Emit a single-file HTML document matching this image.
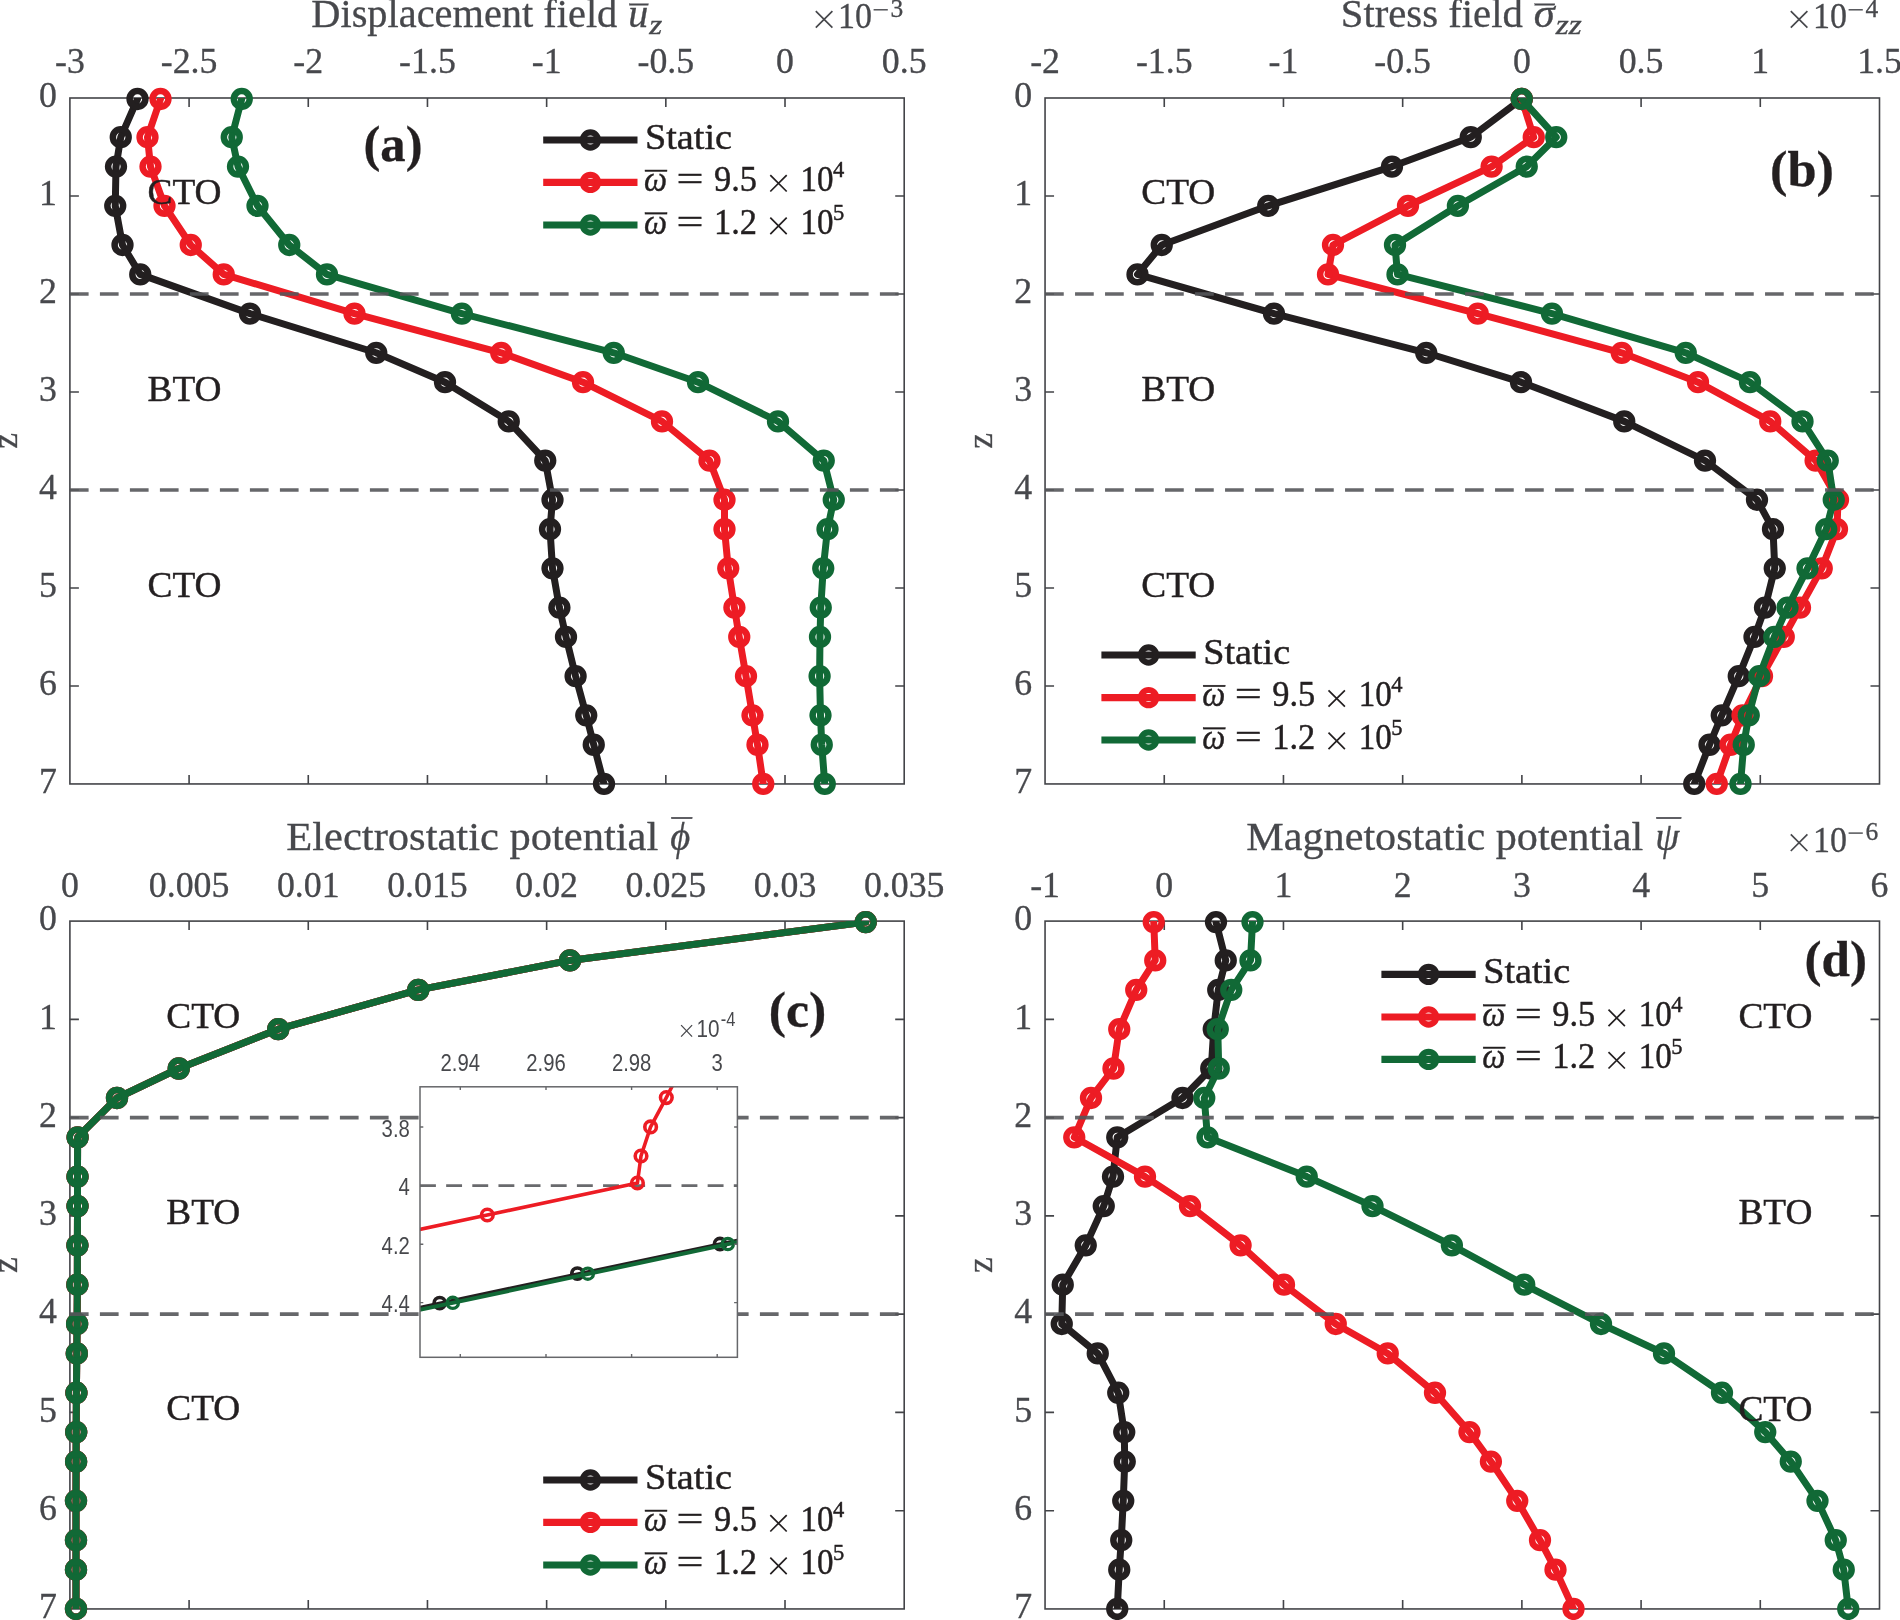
<!DOCTYPE html>
<html><head><meta charset="utf-8"><title>Figure</title>
<style>html,body{margin:0;padding:0;background:#fff;}body{width:1900px;height:1620px;overflow:hidden;font-family:"Liberation Serif",serif;}svg{will-change:transform;}svg text{white-space:pre;}</style></head>
<body>
<svg width="1900" height="1620" viewBox="0 0 1900 1620" style="display:block">
<rect width="1900" height="1620" fill="#fff"/>
<rect x="69.9" y="98" width="834.3" height="685.95" fill="none" stroke="#434448" stroke-width="1.6"/>
<path d="M189.09 98v9.0M189.09 783.95v-9.0M308.27 98v9.0M308.27 783.95v-9.0M427.46 98v9.0M427.46 783.95v-9.0M546.64 98v9.0M546.64 783.95v-9.0M665.83 98v9.0M665.83 783.95v-9.0M785.01 98v9.0M785.01 783.95v-9.0M69.9 195.99h9.0M904.2 195.99h-9.0M69.9 293.99h9.0M904.2 293.99h-9.0M69.9 391.98h9.0M904.2 391.98h-9.0M69.9 489.97h9.0M904.2 489.97h-9.0M69.9 587.96h9.0M904.2 587.96h-9.0M69.9 685.96h9.0M904.2 685.96h-9.0" stroke="#434448" stroke-width="1.6" fill="none"/>
<text x="69.9" y="73.4" text-anchor="middle" font-family="Liberation Serif, serif" font-size="35.8" fill="#47484c" stroke="#47484c" stroke-width="0.3">-3</text>
<text x="189.09" y="73.4" text-anchor="middle" font-family="Liberation Serif, serif" font-size="35.8" fill="#47484c" stroke="#47484c" stroke-width="0.3">-2.5</text>
<text x="308.27" y="73.4" text-anchor="middle" font-family="Liberation Serif, serif" font-size="35.8" fill="#47484c" stroke="#47484c" stroke-width="0.3">-2</text>
<text x="427.46" y="73.4" text-anchor="middle" font-family="Liberation Serif, serif" font-size="35.8" fill="#47484c" stroke="#47484c" stroke-width="0.3">-1.5</text>
<text x="546.64" y="73.4" text-anchor="middle" font-family="Liberation Serif, serif" font-size="35.8" fill="#47484c" stroke="#47484c" stroke-width="0.3">-1</text>
<text x="665.83" y="73.4" text-anchor="middle" font-family="Liberation Serif, serif" font-size="35.8" fill="#47484c" stroke="#47484c" stroke-width="0.3">-0.5</text>
<text x="785.01" y="73.4" text-anchor="middle" font-family="Liberation Serif, serif" font-size="35.8" fill="#47484c" stroke="#47484c" stroke-width="0.3">0</text>
<text x="904.2" y="73.4" text-anchor="middle" font-family="Liberation Serif, serif" font-size="35.8" fill="#47484c" stroke="#47484c" stroke-width="0.3">0.5</text>
<text x="56.9" y="107.3" text-anchor="end" font-family="Liberation Serif, serif" font-size="35.8" fill="#47484c" stroke="#47484c" stroke-width="0.3">0</text>
<text x="56.9" y="205.29" text-anchor="end" font-family="Liberation Serif, serif" font-size="35.8" fill="#47484c" stroke="#47484c" stroke-width="0.3">1</text>
<text x="56.9" y="303.29" text-anchor="end" font-family="Liberation Serif, serif" font-size="35.8" fill="#47484c" stroke="#47484c" stroke-width="0.3">2</text>
<text x="56.9" y="401.28" text-anchor="end" font-family="Liberation Serif, serif" font-size="35.8" fill="#47484c" stroke="#47484c" stroke-width="0.3">3</text>
<text x="56.9" y="499.27" text-anchor="end" font-family="Liberation Serif, serif" font-size="35.8" fill="#47484c" stroke="#47484c" stroke-width="0.3">4</text>
<text x="56.9" y="597.26" text-anchor="end" font-family="Liberation Serif, serif" font-size="35.8" fill="#47484c" stroke="#47484c" stroke-width="0.3">5</text>
<text x="56.9" y="695.26" text-anchor="end" font-family="Liberation Serif, serif" font-size="35.8" fill="#47484c" stroke="#47484c" stroke-width="0.3">6</text>
<text x="56.9" y="793.25" text-anchor="end" font-family="Liberation Serif, serif" font-size="35.8" fill="#47484c" stroke="#47484c" stroke-width="0.3">7</text>
<text transform="translate(16.9 440.98) rotate(-90)" text-anchor="middle" font-family="Liberation Serif, serif" font-size="35.5" fill="#47484c" stroke="#47484c" stroke-width="0.3">z</text>
<clipPath id="cpa"><rect x="69.9" y="98" width="834.3" height="685.95"/></clipPath>
<polyline clip-path="url(#cpa)" points="137.5,98.98 120.75,137.2 116,166.59 115.25,205.79 122.5,244.99 140.25,274.39 250,313.58 376.25,352.78 445,382.18 508.75,421.38 545.25,460.57 552.5,499.77 550,529.17 552.5,568.37 559.4,607.56 566,636.96 575.6,676.16 586.25,715.36 593.75,744.75 604,783.95" fill="none" stroke="#231f20" stroke-width="7.0" stroke-linejoin="round" stroke-linecap="round"/>
<g fill="none" stroke="#231f20" stroke-width="6.5">
<circle cx="137.5" cy="98.98" r="7.9"/>
<circle cx="120.75" cy="137.2" r="7.9"/>
<circle cx="116" cy="166.59" r="7.9"/>
<circle cx="115.25" cy="205.79" r="7.9"/>
<circle cx="122.5" cy="244.99" r="7.9"/>
<circle cx="140.25" cy="274.39" r="7.9"/>
<circle cx="250" cy="313.58" r="7.9"/>
<circle cx="376.25" cy="352.78" r="7.9"/>
<circle cx="445" cy="382.18" r="7.9"/>
<circle cx="508.75" cy="421.38" r="7.9"/>
<circle cx="545.25" cy="460.57" r="7.9"/>
<circle cx="552.5" cy="499.77" r="7.9"/>
<circle cx="550" cy="529.17" r="7.9"/>
<circle cx="552.5" cy="568.37" r="7.9"/>
<circle cx="559.4" cy="607.56" r="7.9"/>
<circle cx="566" cy="636.96" r="7.9"/>
<circle cx="575.6" cy="676.16" r="7.9"/>
<circle cx="586.25" cy="715.36" r="7.9"/>
<circle cx="593.75" cy="744.75" r="7.9"/>
<circle cx="604" cy="783.95" r="7.9"/>
</g>
<polyline clip-path="url(#cpa)" points="160.5,98.98 147.5,137.2 150.5,166.59 164.5,205.79 190.75,244.99 223.75,274.39 354.5,313.58 501.25,352.78 583,382.18 662,421.38 709.5,460.57 724.5,499.77 724.5,529.17 728.25,568.37 734.4,607.56 739.25,636.96 746,676.16 752.5,715.36 757.5,744.75 763.25,783.95" fill="none" stroke="#ed1c24" stroke-width="7.0" stroke-linejoin="round" stroke-linecap="round"/>
<g fill="none" stroke="#ed1c24" stroke-width="6.5">
<circle cx="160.5" cy="98.98" r="7.9"/>
<circle cx="147.5" cy="137.2" r="7.9"/>
<circle cx="150.5" cy="166.59" r="7.9"/>
<circle cx="164.5" cy="205.79" r="7.9"/>
<circle cx="190.75" cy="244.99" r="7.9"/>
<circle cx="223.75" cy="274.39" r="7.9"/>
<circle cx="354.5" cy="313.58" r="7.9"/>
<circle cx="501.25" cy="352.78" r="7.9"/>
<circle cx="583" cy="382.18" r="7.9"/>
<circle cx="662" cy="421.38" r="7.9"/>
<circle cx="709.5" cy="460.57" r="7.9"/>
<circle cx="724.5" cy="499.77" r="7.9"/>
<circle cx="724.5" cy="529.17" r="7.9"/>
<circle cx="728.25" cy="568.37" r="7.9"/>
<circle cx="734.4" cy="607.56" r="7.9"/>
<circle cx="739.25" cy="636.96" r="7.9"/>
<circle cx="746" cy="676.16" r="7.9"/>
<circle cx="752.5" cy="715.36" r="7.9"/>
<circle cx="757.5" cy="744.75" r="7.9"/>
<circle cx="763.25" cy="783.95" r="7.9"/>
</g>
<polyline clip-path="url(#cpa)" points="241.75,98.98 231.75,137.2 238,166.59 257.5,205.79 289.25,244.99 327,274.39 461.9,313.58 613.75,352.78 698,382.18 778,421.38 823.75,460.57 833.75,499.77 827.5,529.17 823.25,568.37 820.75,607.56 820,636.96 819.6,676.16 820.5,715.36 821.75,744.75 824.75,783.95" fill="none" stroke="#116936" stroke-width="7.0" stroke-linejoin="round" stroke-linecap="round"/>
<g fill="none" stroke="#116936" stroke-width="6.5">
<circle cx="241.75" cy="98.98" r="7.9"/>
<circle cx="231.75" cy="137.2" r="7.9"/>
<circle cx="238" cy="166.59" r="7.9"/>
<circle cx="257.5" cy="205.79" r="7.9"/>
<circle cx="289.25" cy="244.99" r="7.9"/>
<circle cx="327" cy="274.39" r="7.9"/>
<circle cx="461.9" cy="313.58" r="7.9"/>
<circle cx="613.75" cy="352.78" r="7.9"/>
<circle cx="698" cy="382.18" r="7.9"/>
<circle cx="778" cy="421.38" r="7.9"/>
<circle cx="823.75" cy="460.57" r="7.9"/>
<circle cx="833.75" cy="499.77" r="7.9"/>
<circle cx="827.5" cy="529.17" r="7.9"/>
<circle cx="823.25" cy="568.37" r="7.9"/>
<circle cx="820.75" cy="607.56" r="7.9"/>
<circle cx="820" cy="636.96" r="7.9"/>
<circle cx="819.6" cy="676.16" r="7.9"/>
<circle cx="820.5" cy="715.36" r="7.9"/>
<circle cx="821.75" cy="744.75" r="7.9"/>
<circle cx="824.75" cy="783.95" r="7.9"/>
</g>
<line x1="69.9" y1="293.99" x2="904.2" y2="293.99" stroke="#55565a" stroke-opacity="0.9" stroke-width="3.6" stroke-dasharray="18.7 11.3"/>
<line x1="69.9" y1="489.97" x2="904.2" y2="489.97" stroke="#55565a" stroke-opacity="0.9" stroke-width="3.6" stroke-dasharray="18.7 11.3"/>
<text x="147.5" y="204.3" font-family="Liberation Serif, serif" font-size="36" fill="#231f20" stroke="#231f20" stroke-width="0.45" textLength="74" lengthAdjust="spacingAndGlyphs">CTO</text>
<text x="147.5" y="400.5" font-family="Liberation Serif, serif" font-size="36" fill="#231f20" stroke="#231f20" stroke-width="0.45" textLength="74" lengthAdjust="spacingAndGlyphs">BTO</text>
<text x="147.5" y="596.6" font-family="Liberation Serif, serif" font-size="36" fill="#231f20" stroke="#231f20" stroke-width="0.45" textLength="74" lengthAdjust="spacingAndGlyphs">CTO</text>
<text x="363.5" y="161.3" font-family="Liberation Serif, serif" font-weight="bold" font-size="50" fill="#231f20" stroke="#231f20" stroke-width="0.3" textLength="59" lengthAdjust="spacingAndGlyphs">(a)</text>
<line x1="543.2" y1="140" x2="637.5" y2="140" stroke="#231f20" stroke-width="7.2"/>
<circle cx="590.4" cy="140" r="7.6" fill="none" stroke="#231f20" stroke-width="6.2"/>
<line x1="543.2" y1="182.4" x2="637.5" y2="182.4" stroke="#ed1c24" stroke-width="7.2"/>
<circle cx="590.4" cy="182.4" r="7.6" fill="none" stroke="#ed1c24" stroke-width="6.2"/>
<line x1="543.2" y1="225" x2="637.5" y2="225" stroke="#116936" stroke-width="7.2"/>
<circle cx="590.4" cy="225" r="7.6" fill="none" stroke="#116936" stroke-width="6.2"/>
<text x="645" y="149" font-family="Liberation Serif, serif" font-size="36.5" fill="#231f20" stroke="#231f20" stroke-width="0.45" textLength="87" lengthAdjust="spacingAndGlyphs">Static</text>
<g font-family="Liberation Serif, serif" font-size="36.5" fill="#231f20" stroke="#231f20" stroke-width="0.45">
<text x="644" y="191.2" font-style="italic" textLength="23" lengthAdjust="spacingAndGlyphs">ω</text>
<rect x="645" y="170" width="22" height="1.5"/>
<text x="676.5" y="191.2" textLength="27" lengthAdjust="spacingAndGlyphs">=</text>
<text x="714" y="191.2" textLength="43" lengthAdjust="spacingAndGlyphs">9.5</text>
<path d="M770.3 175.1L786.7 191.5M770.3 191.5L786.7 175.1" stroke="#231f20" stroke-width="1.7" fill="none"/>
<text x="800.5" y="191.2" textLength="33" lengthAdjust="spacingAndGlyphs">10</text>
<text x="833" y="177.2" font-size="22.5">4</text>
</g>
<g font-family="Liberation Serif, serif" font-size="36.5" fill="#231f20" stroke="#231f20" stroke-width="0.45">
<text x="644" y="233.8" font-style="italic" textLength="23" lengthAdjust="spacingAndGlyphs">ω</text>
<rect x="645" y="212.6" width="22" height="1.5"/>
<text x="676.5" y="233.8" textLength="27" lengthAdjust="spacingAndGlyphs">=</text>
<text x="714" y="233.8" textLength="43" lengthAdjust="spacingAndGlyphs">1.2</text>
<path d="M770.3 217.7L786.7 234.1M770.3 234.1L786.7 217.7" stroke="#231f20" stroke-width="1.7" fill="none"/>
<text x="800.5" y="233.8" textLength="33" lengthAdjust="spacingAndGlyphs">10</text>
<text x="833" y="219.8" font-size="22.5">5</text>
</g>
<g font-family="Liberation Serif, serif" font-size="39.5" fill="#47484c" stroke="#47484c" stroke-width="0.3">
<text x="311.3" y="26.9" textLength="306" lengthAdjust="spacingAndGlyphs">Displacement field</text>
<text x="628.3" y="26.9" font-style="italic" textLength="20" lengthAdjust="spacingAndGlyphs">u</text>
<rect x="629.3" y="3.7" width="19" height="1.6"/>
<text x="649.3" y="33.9" font-style="italic" font-size="27" textLength="13" lengthAdjust="spacingAndGlyphs">z</text>
</g>
<path d="M815.8 11.1L832.4 27.7M815.8 27.7L832.4 11.1" stroke="#47484c" stroke-width="1.7" fill="none"/>
<path d="M873.6 9.8h14.2" stroke="#47484c" stroke-width="1.4" fill="none"/>
<g font-family="Liberation Serif, serif" fill="#47484c" stroke="#47484c" stroke-width="0.3">
<text x="838.1" y="28.4" font-size="36.5" textLength="34" lengthAdjust="spacingAndGlyphs">10</text>
<text x="890.5" y="16.5" font-size="25.5">3</text>
</g>
<rect x="1045.05" y="98" width="834.45" height="685.95" fill="none" stroke="#434448" stroke-width="1.6"/>
<path d="M1164.26 98v9.0M1164.26 783.95v-9.0M1283.46 98v9.0M1283.46 783.95v-9.0M1402.67 98v9.0M1402.67 783.95v-9.0M1521.88 98v9.0M1521.88 783.95v-9.0M1641.09 98v9.0M1641.09 783.95v-9.0M1760.29 98v9.0M1760.29 783.95v-9.0M1045.05 195.99h9.0M1879.5 195.99h-9.0M1045.05 293.99h9.0M1879.5 293.99h-9.0M1045.05 391.98h9.0M1879.5 391.98h-9.0M1045.05 489.97h9.0M1879.5 489.97h-9.0M1045.05 587.96h9.0M1879.5 587.96h-9.0M1045.05 685.96h9.0M1879.5 685.96h-9.0" stroke="#434448" stroke-width="1.6" fill="none"/>
<text x="1045.05" y="73.4" text-anchor="middle" font-family="Liberation Serif, serif" font-size="35.8" fill="#47484c" stroke="#47484c" stroke-width="0.3">-2</text>
<text x="1164.26" y="73.4" text-anchor="middle" font-family="Liberation Serif, serif" font-size="35.8" fill="#47484c" stroke="#47484c" stroke-width="0.3">-1.5</text>
<text x="1283.46" y="73.4" text-anchor="middle" font-family="Liberation Serif, serif" font-size="35.8" fill="#47484c" stroke="#47484c" stroke-width="0.3">-1</text>
<text x="1402.67" y="73.4" text-anchor="middle" font-family="Liberation Serif, serif" font-size="35.8" fill="#47484c" stroke="#47484c" stroke-width="0.3">-0.5</text>
<text x="1521.88" y="73.4" text-anchor="middle" font-family="Liberation Serif, serif" font-size="35.8" fill="#47484c" stroke="#47484c" stroke-width="0.3">0</text>
<text x="1641.09" y="73.4" text-anchor="middle" font-family="Liberation Serif, serif" font-size="35.8" fill="#47484c" stroke="#47484c" stroke-width="0.3">0.5</text>
<text x="1760.29" y="73.4" text-anchor="middle" font-family="Liberation Serif, serif" font-size="35.8" fill="#47484c" stroke="#47484c" stroke-width="0.3">1</text>
<text x="1879.5" y="73.4" text-anchor="middle" font-family="Liberation Serif, serif" font-size="35.8" fill="#47484c" stroke="#47484c" stroke-width="0.3">1.5</text>
<text x="1032.05" y="107.3" text-anchor="end" font-family="Liberation Serif, serif" font-size="35.8" fill="#47484c" stroke="#47484c" stroke-width="0.3">0</text>
<text x="1032.05" y="205.29" text-anchor="end" font-family="Liberation Serif, serif" font-size="35.8" fill="#47484c" stroke="#47484c" stroke-width="0.3">1</text>
<text x="1032.05" y="303.29" text-anchor="end" font-family="Liberation Serif, serif" font-size="35.8" fill="#47484c" stroke="#47484c" stroke-width="0.3">2</text>
<text x="1032.05" y="401.28" text-anchor="end" font-family="Liberation Serif, serif" font-size="35.8" fill="#47484c" stroke="#47484c" stroke-width="0.3">3</text>
<text x="1032.05" y="499.27" text-anchor="end" font-family="Liberation Serif, serif" font-size="35.8" fill="#47484c" stroke="#47484c" stroke-width="0.3">4</text>
<text x="1032.05" y="597.26" text-anchor="end" font-family="Liberation Serif, serif" font-size="35.8" fill="#47484c" stroke="#47484c" stroke-width="0.3">5</text>
<text x="1032.05" y="695.26" text-anchor="end" font-family="Liberation Serif, serif" font-size="35.8" fill="#47484c" stroke="#47484c" stroke-width="0.3">6</text>
<text x="1032.05" y="793.25" text-anchor="end" font-family="Liberation Serif, serif" font-size="35.8" fill="#47484c" stroke="#47484c" stroke-width="0.3">7</text>
<text transform="translate(992.05 440.98) rotate(-90)" text-anchor="middle" font-family="Liberation Serif, serif" font-size="35.5" fill="#47484c" stroke="#47484c" stroke-width="0.3">z</text>
<clipPath id="cpb"><rect x="1045.05" y="98" width="834.45" height="685.95"/></clipPath>
<polyline clip-path="url(#cpb)" points="1521.75,98.98 1470.75,137.2 1392,166.59 1268.25,205.79 1161.75,244.99 1137.5,274.39 1274,313.58 1426.25,352.78 1521,382.18 1624.25,421.38 1705,460.57 1757,499.77 1773,529.17 1774.75,568.37 1765,607.56 1754.5,636.96 1738.75,676.16 1721.75,715.36 1709.5,744.75 1694.25,783.95" fill="none" stroke="#231f20" stroke-width="7.0" stroke-linejoin="round" stroke-linecap="round"/>
<g fill="none" stroke="#231f20" stroke-width="6.5">
<circle cx="1521.75" cy="98.98" r="7.9"/>
<circle cx="1470.75" cy="137.2" r="7.9"/>
<circle cx="1392" cy="166.59" r="7.9"/>
<circle cx="1268.25" cy="205.79" r="7.9"/>
<circle cx="1161.75" cy="244.99" r="7.9"/>
<circle cx="1137.5" cy="274.39" r="7.9"/>
<circle cx="1274" cy="313.58" r="7.9"/>
<circle cx="1426.25" cy="352.78" r="7.9"/>
<circle cx="1521" cy="382.18" r="7.9"/>
<circle cx="1624.25" cy="421.38" r="7.9"/>
<circle cx="1705" cy="460.57" r="7.9"/>
<circle cx="1757" cy="499.77" r="7.9"/>
<circle cx="1773" cy="529.17" r="7.9"/>
<circle cx="1774.75" cy="568.37" r="7.9"/>
<circle cx="1765" cy="607.56" r="7.9"/>
<circle cx="1754.5" cy="636.96" r="7.9"/>
<circle cx="1738.75" cy="676.16" r="7.9"/>
<circle cx="1721.75" cy="715.36" r="7.9"/>
<circle cx="1709.5" cy="744.75" r="7.9"/>
<circle cx="1694.25" cy="783.95" r="7.9"/>
</g>
<polyline clip-path="url(#cpb)" points="1521.75,98.98 1533.75,137.2 1491.6,166.59 1408,205.79 1333,244.99 1328,274.39 1477.75,313.58 1621.75,352.78 1698,382.18 1770.25,421.38 1815.6,460.57 1838,499.77 1837,529.17 1821.75,568.37 1800,607.56 1783.75,636.96 1762,676.16 1742.5,715.36 1730.5,744.75 1716.75,783.95" fill="none" stroke="#ed1c24" stroke-width="7.0" stroke-linejoin="round" stroke-linecap="round"/>
<g fill="none" stroke="#ed1c24" stroke-width="6.5">
<circle cx="1521.75" cy="98.98" r="7.9"/>
<circle cx="1533.75" cy="137.2" r="7.9"/>
<circle cx="1491.6" cy="166.59" r="7.9"/>
<circle cx="1408" cy="205.79" r="7.9"/>
<circle cx="1333" cy="244.99" r="7.9"/>
<circle cx="1328" cy="274.39" r="7.9"/>
<circle cx="1477.75" cy="313.58" r="7.9"/>
<circle cx="1621.75" cy="352.78" r="7.9"/>
<circle cx="1698" cy="382.18" r="7.9"/>
<circle cx="1770.25" cy="421.38" r="7.9"/>
<circle cx="1815.6" cy="460.57" r="7.9"/>
<circle cx="1838" cy="499.77" r="7.9"/>
<circle cx="1837" cy="529.17" r="7.9"/>
<circle cx="1821.75" cy="568.37" r="7.9"/>
<circle cx="1800" cy="607.56" r="7.9"/>
<circle cx="1783.75" cy="636.96" r="7.9"/>
<circle cx="1762" cy="676.16" r="7.9"/>
<circle cx="1742.5" cy="715.36" r="7.9"/>
<circle cx="1730.5" cy="744.75" r="7.9"/>
<circle cx="1716.75" cy="783.95" r="7.9"/>
</g>
<polyline clip-path="url(#cpb)" points="1521.75,98.98 1556.25,137.2 1526.75,166.59 1457.9,205.79 1395,244.99 1397.5,274.39 1552,313.58 1685.75,352.78 1750,382.18 1802.5,421.38 1827.75,460.57 1833.75,499.77 1826.25,529.17 1807.5,568.37 1787.5,607.56 1774.25,636.96 1759.25,676.16 1748.75,715.36 1743.75,744.75 1740.5,783.95" fill="none" stroke="#116936" stroke-width="7.0" stroke-linejoin="round" stroke-linecap="round"/>
<g fill="none" stroke="#116936" stroke-width="6.5">
<circle cx="1521.75" cy="98.98" r="7.9"/>
<circle cx="1556.25" cy="137.2" r="7.9"/>
<circle cx="1526.75" cy="166.59" r="7.9"/>
<circle cx="1457.9" cy="205.79" r="7.9"/>
<circle cx="1395" cy="244.99" r="7.9"/>
<circle cx="1397.5" cy="274.39" r="7.9"/>
<circle cx="1552" cy="313.58" r="7.9"/>
<circle cx="1685.75" cy="352.78" r="7.9"/>
<circle cx="1750" cy="382.18" r="7.9"/>
<circle cx="1802.5" cy="421.38" r="7.9"/>
<circle cx="1827.75" cy="460.57" r="7.9"/>
<circle cx="1833.75" cy="499.77" r="7.9"/>
<circle cx="1826.25" cy="529.17" r="7.9"/>
<circle cx="1807.5" cy="568.37" r="7.9"/>
<circle cx="1787.5" cy="607.56" r="7.9"/>
<circle cx="1774.25" cy="636.96" r="7.9"/>
<circle cx="1759.25" cy="676.16" r="7.9"/>
<circle cx="1748.75" cy="715.36" r="7.9"/>
<circle cx="1743.75" cy="744.75" r="7.9"/>
<circle cx="1740.5" cy="783.95" r="7.9"/>
</g>
<line x1="1045.05" y1="293.99" x2="1879.5" y2="293.99" stroke="#55565a" stroke-opacity="0.9" stroke-width="3.6" stroke-dasharray="18.7 11.3"/>
<line x1="1045.05" y1="489.97" x2="1879.5" y2="489.97" stroke="#55565a" stroke-opacity="0.9" stroke-width="3.6" stroke-dasharray="18.7 11.3"/>
<text x="1141.3" y="204.3" font-family="Liberation Serif, serif" font-size="36" fill="#231f20" stroke="#231f20" stroke-width="0.45" textLength="74" lengthAdjust="spacingAndGlyphs">CTO</text>
<text x="1141.3" y="400.5" font-family="Liberation Serif, serif" font-size="36" fill="#231f20" stroke="#231f20" stroke-width="0.45" textLength="74" lengthAdjust="spacingAndGlyphs">BTO</text>
<text x="1141.3" y="596.6" font-family="Liberation Serif, serif" font-size="36" fill="#231f20" stroke="#231f20" stroke-width="0.45" textLength="74" lengthAdjust="spacingAndGlyphs">CTO</text>
<text x="1770" y="186" font-family="Liberation Serif, serif" font-weight="bold" font-size="50" fill="#231f20" stroke="#231f20" stroke-width="0.3" textLength="64" lengthAdjust="spacingAndGlyphs">(b)</text>
<line x1="1101.4" y1="655" x2="1195.7" y2="655" stroke="#231f20" stroke-width="7.2"/>
<circle cx="1148.6" cy="655" r="7.6" fill="none" stroke="#231f20" stroke-width="6.2"/>
<line x1="1101.4" y1="697.6" x2="1195.7" y2="697.6" stroke="#ed1c24" stroke-width="7.2"/>
<circle cx="1148.6" cy="697.6" r="7.6" fill="none" stroke="#ed1c24" stroke-width="6.2"/>
<line x1="1101.4" y1="740" x2="1195.7" y2="740" stroke="#116936" stroke-width="7.2"/>
<circle cx="1148.6" cy="740" r="7.6" fill="none" stroke="#116936" stroke-width="6.2"/>
<text x="1203.2" y="664" font-family="Liberation Serif, serif" font-size="36.5" fill="#231f20" stroke="#231f20" stroke-width="0.45" textLength="87" lengthAdjust="spacingAndGlyphs">Static</text>
<g font-family="Liberation Serif, serif" font-size="36.5" fill="#231f20" stroke="#231f20" stroke-width="0.45">
<text x="1202.2" y="706.4" font-style="italic" textLength="23" lengthAdjust="spacingAndGlyphs">ω</text>
<rect x="1203.2" y="685.2" width="22" height="1.5"/>
<text x="1234.7" y="706.4" textLength="27" lengthAdjust="spacingAndGlyphs">=</text>
<text x="1272.2" y="706.4" textLength="43" lengthAdjust="spacingAndGlyphs">9.5</text>
<path d="M1328.5 690.3L1344.9 706.7M1328.5 706.7L1344.9 690.3" stroke="#231f20" stroke-width="1.7" fill="none"/>
<text x="1358.7" y="706.4" textLength="33" lengthAdjust="spacingAndGlyphs">10</text>
<text x="1391.2" y="692.4" font-size="22.5">4</text>
</g>
<g font-family="Liberation Serif, serif" font-size="36.5" fill="#231f20" stroke="#231f20" stroke-width="0.45">
<text x="1202.2" y="748.8" font-style="italic" textLength="23" lengthAdjust="spacingAndGlyphs">ω</text>
<rect x="1203.2" y="727.6" width="22" height="1.5"/>
<text x="1234.7" y="748.8" textLength="27" lengthAdjust="spacingAndGlyphs">=</text>
<text x="1272.2" y="748.8" textLength="43" lengthAdjust="spacingAndGlyphs">1.2</text>
<path d="M1328.5 732.7L1344.9 749.1M1328.5 749.1L1344.9 732.7" stroke="#231f20" stroke-width="1.7" fill="none"/>
<text x="1358.7" y="748.8" textLength="33" lengthAdjust="spacingAndGlyphs">10</text>
<text x="1391.2" y="734.8" font-size="22.5">5</text>
</g>
<g font-family="Liberation Serif, serif" font-size="39.5" fill="#47484c" stroke="#47484c" stroke-width="0.3">
<text x="1340.8" y="26.9" textLength="182" lengthAdjust="spacingAndGlyphs">Stress field</text>
<text x="1533.8" y="26.9" font-style="italic" textLength="21" lengthAdjust="spacingAndGlyphs">σ</text>
<rect x="1534.8" y="3.7" width="20" height="1.6"/>
<text x="1555.8" y="33.9" font-style="italic" font-size="27" textLength="26" lengthAdjust="spacingAndGlyphs">zz</text>
</g>
<path d="M1790.8 11.1L1807.4 27.7M1790.8 27.7L1807.4 11.1" stroke="#47484c" stroke-width="1.7" fill="none"/>
<path d="M1848.6 9.8h14.2" stroke="#47484c" stroke-width="1.4" fill="none"/>
<g font-family="Liberation Serif, serif" fill="#47484c" stroke="#47484c" stroke-width="0.3">
<text x="1813.1" y="28.4" font-size="36.5" textLength="34" lengthAdjust="spacingAndGlyphs">10</text>
<text x="1865.5" y="16.5" font-size="25.5">4</text>
</g>
<rect x="69.9" y="921.1" width="834.3" height="687.85" fill="none" stroke="#434448" stroke-width="1.6"/>
<path d="M189.09 921.1v9.0M189.09 1608.95v-9.0M308.27 921.1v9.0M308.27 1608.95v-9.0M427.46 921.1v9.0M427.46 1608.95v-9.0M546.64 921.1v9.0M546.64 1608.95v-9.0M665.83 921.1v9.0M665.83 1608.95v-9.0M785.01 921.1v9.0M785.01 1608.95v-9.0M69.9 1019.36h9.0M904.2 1019.36h-9.0M69.9 1117.63h9.0M904.2 1117.63h-9.0M69.9 1215.89h9.0M904.2 1215.89h-9.0M69.9 1314.16h9.0M904.2 1314.16h-9.0M69.9 1412.42h9.0M904.2 1412.42h-9.0M69.9 1510.69h9.0M904.2 1510.69h-9.0" stroke="#434448" stroke-width="1.6" fill="none"/>
<text x="69.9" y="896.5" text-anchor="middle" font-family="Liberation Serif, serif" font-size="35.8" fill="#47484c" stroke="#47484c" stroke-width="0.3">0</text>
<text x="189.09" y="896.5" text-anchor="middle" font-family="Liberation Serif, serif" font-size="35.8" fill="#47484c" stroke="#47484c" stroke-width="0.3">0.005</text>
<text x="308.27" y="896.5" text-anchor="middle" font-family="Liberation Serif, serif" font-size="35.8" fill="#47484c" stroke="#47484c" stroke-width="0.3">0.01</text>
<text x="427.46" y="896.5" text-anchor="middle" font-family="Liberation Serif, serif" font-size="35.8" fill="#47484c" stroke="#47484c" stroke-width="0.3">0.015</text>
<text x="546.64" y="896.5" text-anchor="middle" font-family="Liberation Serif, serif" font-size="35.8" fill="#47484c" stroke="#47484c" stroke-width="0.3">0.02</text>
<text x="665.83" y="896.5" text-anchor="middle" font-family="Liberation Serif, serif" font-size="35.8" fill="#47484c" stroke="#47484c" stroke-width="0.3">0.025</text>
<text x="785.01" y="896.5" text-anchor="middle" font-family="Liberation Serif, serif" font-size="35.8" fill="#47484c" stroke="#47484c" stroke-width="0.3">0.03</text>
<text x="904.2" y="896.5" text-anchor="middle" font-family="Liberation Serif, serif" font-size="35.8" fill="#47484c" stroke="#47484c" stroke-width="0.3">0.035</text>
<text x="56.9" y="930.4" text-anchor="end" font-family="Liberation Serif, serif" font-size="35.8" fill="#47484c" stroke="#47484c" stroke-width="0.3">0</text>
<text x="56.9" y="1028.66" text-anchor="end" font-family="Liberation Serif, serif" font-size="35.8" fill="#47484c" stroke="#47484c" stroke-width="0.3">1</text>
<text x="56.9" y="1126.93" text-anchor="end" font-family="Liberation Serif, serif" font-size="35.8" fill="#47484c" stroke="#47484c" stroke-width="0.3">2</text>
<text x="56.9" y="1225.19" text-anchor="end" font-family="Liberation Serif, serif" font-size="35.8" fill="#47484c" stroke="#47484c" stroke-width="0.3">3</text>
<text x="56.9" y="1323.46" text-anchor="end" font-family="Liberation Serif, serif" font-size="35.8" fill="#47484c" stroke="#47484c" stroke-width="0.3">4</text>
<text x="56.9" y="1421.72" text-anchor="end" font-family="Liberation Serif, serif" font-size="35.8" fill="#47484c" stroke="#47484c" stroke-width="0.3">5</text>
<text x="56.9" y="1519.99" text-anchor="end" font-family="Liberation Serif, serif" font-size="35.8" fill="#47484c" stroke="#47484c" stroke-width="0.3">6</text>
<text x="56.9" y="1618.25" text-anchor="end" font-family="Liberation Serif, serif" font-size="35.8" fill="#47484c" stroke="#47484c" stroke-width="0.3">7</text>
<text transform="translate(16.9 1265.03) rotate(-90)" text-anchor="middle" font-family="Liberation Serif, serif" font-size="35.5" fill="#47484c" stroke="#47484c" stroke-width="0.3">z</text>
<clipPath id="cpc"><rect x="69.9" y="921.1" width="834.3" height="687.85"/></clipPath>
<polyline clip-path="url(#cpc)" points="865.75,922.08 570,960.41 418.25,989.88 278.25,1029.19 178.75,1068.5 117,1097.98 77.6,1137.28 77.5,1176.59 77.5,1206.07 77.4,1245.37 77.35,1284.68 77.1,1323.98 76.8,1353.46 76.4,1392.77 76.2,1432.07 76.1,1461.55 76,1500.86 76,1540.16 76,1569.64 76,1608.95" fill="none" stroke="#231f20" stroke-width="7.0" stroke-linejoin="round" stroke-linecap="round"/>
<g fill="none" stroke="#231f20" stroke-width="6.5">
<circle cx="865.75" cy="922.08" r="7.9"/>
<circle cx="570" cy="960.41" r="7.9"/>
<circle cx="418.25" cy="989.88" r="7.9"/>
<circle cx="278.25" cy="1029.19" r="7.9"/>
<circle cx="178.75" cy="1068.5" r="7.9"/>
<circle cx="117" cy="1097.98" r="7.9"/>
<circle cx="77.6" cy="1137.28" r="7.9"/>
<circle cx="77.5" cy="1176.59" r="7.9"/>
<circle cx="77.5" cy="1206.07" r="7.9"/>
<circle cx="77.4" cy="1245.37" r="7.9"/>
<circle cx="77.35" cy="1284.68" r="7.9"/>
<circle cx="77.1" cy="1323.98" r="7.9"/>
<circle cx="76.8" cy="1353.46" r="7.9"/>
<circle cx="76.4" cy="1392.77" r="7.9"/>
<circle cx="76.2" cy="1432.07" r="7.9"/>
<circle cx="76.1" cy="1461.55" r="7.9"/>
<circle cx="76" cy="1500.86" r="7.9"/>
<circle cx="76" cy="1540.16" r="7.9"/>
<circle cx="76" cy="1569.64" r="7.9"/>
<circle cx="76" cy="1608.95" r="7.9"/>
</g>
<polyline clip-path="url(#cpc)" points="865.75,922.08 570,960.41 418.25,989.88 278.25,1029.19 178.75,1068.5 117,1097.98 77.6,1137.28 77.5,1176.59 77.5,1206.07 77.4,1245.37 77.35,1284.68 77.1,1323.98 76.8,1353.46 76.4,1392.77 76.2,1432.07 76.1,1461.55 76,1500.86 76,1540.16 76,1569.64 76,1608.95" fill="none" stroke="#ed1c24" stroke-width="7.0" stroke-linejoin="round" stroke-linecap="round"/>
<g fill="none" stroke="#ed1c24" stroke-width="6.5">
<circle cx="865.75" cy="922.08" r="7.9"/>
<circle cx="570" cy="960.41" r="7.9"/>
<circle cx="418.25" cy="989.88" r="7.9"/>
<circle cx="278.25" cy="1029.19" r="7.9"/>
<circle cx="178.75" cy="1068.5" r="7.9"/>
<circle cx="117" cy="1097.98" r="7.9"/>
<circle cx="77.6" cy="1137.28" r="7.9"/>
<circle cx="77.5" cy="1176.59" r="7.9"/>
<circle cx="77.5" cy="1206.07" r="7.9"/>
<circle cx="77.4" cy="1245.37" r="7.9"/>
<circle cx="77.35" cy="1284.68" r="7.9"/>
<circle cx="77.1" cy="1323.98" r="7.9"/>
<circle cx="76.8" cy="1353.46" r="7.9"/>
<circle cx="76.4" cy="1392.77" r="7.9"/>
<circle cx="76.2" cy="1432.07" r="7.9"/>
<circle cx="76.1" cy="1461.55" r="7.9"/>
<circle cx="76" cy="1500.86" r="7.9"/>
<circle cx="76" cy="1540.16" r="7.9"/>
<circle cx="76" cy="1569.64" r="7.9"/>
<circle cx="76" cy="1608.95" r="7.9"/>
</g>
<polyline clip-path="url(#cpc)" points="865.75,922.08 570,960.41 418.25,989.88 278.25,1029.19 178.75,1068.5 117,1097.98 77.6,1137.28 77.5,1176.59 77.5,1206.07 77.4,1245.37 77.35,1284.68 77.1,1323.98 76.8,1353.46 76.4,1392.77 76.2,1432.07 76.1,1461.55 76,1500.86 76,1540.16 76,1569.64 76,1608.95" fill="none" stroke="#116936" stroke-width="7.0" stroke-linejoin="round" stroke-linecap="round"/>
<g fill="none" stroke="#116936" stroke-width="6.5">
<circle cx="865.75" cy="922.08" r="7.9"/>
<circle cx="570" cy="960.41" r="7.9"/>
<circle cx="418.25" cy="989.88" r="7.9"/>
<circle cx="278.25" cy="1029.19" r="7.9"/>
<circle cx="178.75" cy="1068.5" r="7.9"/>
<circle cx="117" cy="1097.98" r="7.9"/>
<circle cx="77.6" cy="1137.28" r="7.9"/>
<circle cx="77.5" cy="1176.59" r="7.9"/>
<circle cx="77.5" cy="1206.07" r="7.9"/>
<circle cx="77.4" cy="1245.37" r="7.9"/>
<circle cx="77.35" cy="1284.68" r="7.9"/>
<circle cx="77.1" cy="1323.98" r="7.9"/>
<circle cx="76.8" cy="1353.46" r="7.9"/>
<circle cx="76.4" cy="1392.77" r="7.9"/>
<circle cx="76.2" cy="1432.07" r="7.9"/>
<circle cx="76.1" cy="1461.55" r="7.9"/>
<circle cx="76" cy="1500.86" r="7.9"/>
<circle cx="76" cy="1540.16" r="7.9"/>
<circle cx="76" cy="1569.64" r="7.9"/>
<circle cx="76" cy="1608.95" r="7.9"/>
</g>
<line x1="69.9" y1="1117.63" x2="904.2" y2="1117.63" stroke="#55565a" stroke-opacity="0.9" stroke-width="3.6" stroke-dasharray="18.7 11.3"/>
<line x1="69.9" y1="1314.16" x2="904.2" y2="1314.16" stroke="#55565a" stroke-opacity="0.9" stroke-width="3.6" stroke-dasharray="18.7 11.3"/>
<text x="166.3" y="1027.5" font-family="Liberation Serif, serif" font-size="36" fill="#231f20" stroke="#231f20" stroke-width="0.45" textLength="74" lengthAdjust="spacingAndGlyphs">CTO</text>
<text x="166.3" y="1223.8" font-family="Liberation Serif, serif" font-size="36" fill="#231f20" stroke="#231f20" stroke-width="0.45" textLength="74" lengthAdjust="spacingAndGlyphs">BTO</text>
<text x="166.3" y="1420" font-family="Liberation Serif, serif" font-size="36" fill="#231f20" stroke="#231f20" stroke-width="0.45" textLength="74" lengthAdjust="spacingAndGlyphs">CTO</text>
<text x="768.7" y="1027.1" font-family="Liberation Serif, serif" font-weight="bold" font-size="50" fill="#231f20" stroke="#231f20" stroke-width="0.3" textLength="57.5" lengthAdjust="spacingAndGlyphs">(c)</text>
<line x1="543.2" y1="1480" x2="637.5" y2="1480" stroke="#231f20" stroke-width="7.2"/>
<circle cx="590.4" cy="1480" r="7.6" fill="none" stroke="#231f20" stroke-width="6.2"/>
<line x1="543.2" y1="1522.4" x2="637.5" y2="1522.4" stroke="#ed1c24" stroke-width="7.2"/>
<circle cx="590.4" cy="1522.4" r="7.6" fill="none" stroke="#ed1c24" stroke-width="6.2"/>
<line x1="543.2" y1="1565" x2="637.5" y2="1565" stroke="#116936" stroke-width="7.2"/>
<circle cx="590.4" cy="1565" r="7.6" fill="none" stroke="#116936" stroke-width="6.2"/>
<text x="645" y="1489" font-family="Liberation Serif, serif" font-size="36.5" fill="#231f20" stroke="#231f20" stroke-width="0.45" textLength="87" lengthAdjust="spacingAndGlyphs">Static</text>
<g font-family="Liberation Serif, serif" font-size="36.5" fill="#231f20" stroke="#231f20" stroke-width="0.45">
<text x="644" y="1531.2" font-style="italic" textLength="23" lengthAdjust="spacingAndGlyphs">ω</text>
<rect x="645" y="1510" width="22" height="1.5"/>
<text x="676.5" y="1531.2" textLength="27" lengthAdjust="spacingAndGlyphs">=</text>
<text x="714" y="1531.2" textLength="43" lengthAdjust="spacingAndGlyphs">9.5</text>
<path d="M770.3 1515.1L786.7 1531.5M770.3 1531.5L786.7 1515.1" stroke="#231f20" stroke-width="1.7" fill="none"/>
<text x="800.5" y="1531.2" textLength="33" lengthAdjust="spacingAndGlyphs">10</text>
<text x="833" y="1517.2" font-size="22.5">4</text>
</g>
<g font-family="Liberation Serif, serif" font-size="36.5" fill="#231f20" stroke="#231f20" stroke-width="0.45">
<text x="644" y="1573.8" font-style="italic" textLength="23" lengthAdjust="spacingAndGlyphs">ω</text>
<rect x="645" y="1552.6" width="22" height="1.5"/>
<text x="676.5" y="1573.8" textLength="27" lengthAdjust="spacingAndGlyphs">=</text>
<text x="714" y="1573.8" textLength="43" lengthAdjust="spacingAndGlyphs">1.2</text>
<path d="M770.3 1557.7L786.7 1574.1M770.3 1574.1L786.7 1557.7" stroke="#231f20" stroke-width="1.7" fill="none"/>
<text x="800.5" y="1573.8" textLength="33" lengthAdjust="spacingAndGlyphs">10</text>
<text x="833" y="1559.8" font-size="22.5">5</text>
</g>
<g font-family="Liberation Serif, serif" font-size="39.5" fill="#47484c" stroke="#47484c" stroke-width="0.3">
<text x="286.3" y="850.2" textLength="372" lengthAdjust="spacingAndGlyphs">Electrostatic potential</text>
<text x="670.3" y="850.2" font-style="italic" textLength="20" lengthAdjust="spacingAndGlyphs">ϕ</text>
<rect x="671.3" y="817.2" width="21" height="1.6"/>
</g>
<rect x="420.0" y="1086.8" width="317.4" height="270.5" fill="#fff" stroke="none"/>
<clipPath id="ic"><rect x="420.0" y="1086.8" width="317.4" height="270.5"/></clipPath>
<g clip-path="url(#ic)">
<line x1="420.0" y1="1185.6" x2="737.4" y2="1185.6" stroke="#696a6d" stroke-width="2.8" stroke-dasharray="15.9 10.25"/>
<line x1="400" y1="1311.7" x2="760" y2="1235.6" stroke="#231f20" stroke-width="3.6"/>
<circle cx="439.7" cy="1303.1" r="5.6" fill="none" stroke="#231f20" stroke-width="3.6"/>
<circle cx="577.4" cy="1273.6" r="5.6" fill="none" stroke="#231f20" stroke-width="3.6"/>
<circle cx="720" cy="1244.0" r="5.6" fill="none" stroke="#231f20" stroke-width="3.6"/>
<line x1="400" y1="1314.1" x2="760" y2="1237.3" stroke="#116936" stroke-width="3.9"/>
<circle cx="452.8" cy="1302.8" r="5.6" fill="none" stroke="#116936" stroke-width="3.4"/>
<circle cx="587.8" cy="1273.7" r="5.6" fill="none" stroke="#116936" stroke-width="3.4"/>
<circle cx="727.8" cy="1244.0" r="5.6" fill="none" stroke="#116936" stroke-width="3.4"/>
<polyline points="681.4,1068.2 666.3,1097.6 650.6,1126.9 641,1156.0 637.4,1183.0 487.3,1215.0 337,1247.0" fill="none" stroke="#ed1c24" stroke-width="3.6" stroke-linejoin="round"/>
<circle cx="666.3" cy="1097.6" r="5.8" fill="none" stroke="#ed1c24" stroke-width="3.6"/>
<circle cx="650.6" cy="1126.9" r="5.8" fill="none" stroke="#ed1c24" stroke-width="3.6"/>
<circle cx="641" cy="1156.0" r="5.8" fill="none" stroke="#ed1c24" stroke-width="3.6"/>
<circle cx="637.4" cy="1183.0" r="5.8" fill="none" stroke="#ed1c24" stroke-width="3.6"/>
<circle cx="487.3" cy="1215.0" r="5.8" fill="none" stroke="#ed1c24" stroke-width="3.6"/>
</g>
<rect x="420.0" y="1086.8" width="317.4" height="270.5" fill="none" stroke="#66676a" stroke-width="1.5"/>
<path d="M460.3 1086.8v3.3M460.3 1357.3v-3.3M546.0 1086.8v3.3M546.0 1357.3v-3.3M631.6 1086.8v3.3M631.6 1357.3v-3.3M717.2 1086.8v3.3M717.2 1357.3v-3.3M420.0 1127.0h3.3M737.4 1127.0h-3.3M420.0 1185.6h3.3M737.4 1185.6h-3.3M420.0 1244.2h3.3M737.4 1244.2h-3.3M420.0 1302.6h3.3M737.4 1302.6h-3.3" stroke="#66676a" stroke-width="1.4" fill="none"/>
<g font-family="Liberation Sans, sans-serif" font-size="24" fill="#47484c">
<text transform="translate(460.3 1071) scale(0.845 1)" text-anchor="middle">2.94</text>
<text transform="translate(546.0 1071) scale(0.845 1)" text-anchor="middle">2.96</text>
<text transform="translate(631.6 1071) scale(0.845 1)" text-anchor="middle">2.98</text>
<text transform="translate(717.2 1071) scale(0.845 1)" text-anchor="middle">3</text>
<text transform="translate(409.8 1136.6) scale(0.845 1)" text-anchor="end">3.8</text>
<text transform="translate(409.8 1195.2) scale(0.845 1)" text-anchor="end">4</text>
<text transform="translate(409.8 1253.8) scale(0.845 1)" text-anchor="end">4.2</text>
<text transform="translate(409.8 1312.2) scale(0.845 1)" text-anchor="end">4.4</text>
<path d="M681.1 1025.1L692.1 1036.6M681.1 1036.6L692.1 1025.1" stroke="#47484c" stroke-width="1.25" fill="none"/>
<text transform="translate(696.6 1036.8) scale(0.845 1)" font-size="24.5">10</text>
<text transform="translate(720.7 1025.8) scale(0.845 1)" font-size="19.5">-4</text>
</g>
<rect x="1045.05" y="921.1" width="834.45" height="687.85" fill="none" stroke="#434448" stroke-width="1.6"/>
<path d="M1164.26 921.1v9.0M1164.26 1608.95v-9.0M1283.46 921.1v9.0M1283.46 1608.95v-9.0M1402.67 921.1v9.0M1402.67 1608.95v-9.0M1521.88 921.1v9.0M1521.88 1608.95v-9.0M1641.09 921.1v9.0M1641.09 1608.95v-9.0M1760.29 921.1v9.0M1760.29 1608.95v-9.0M1045.05 1019.36h9.0M1879.5 1019.36h-9.0M1045.05 1117.63h9.0M1879.5 1117.63h-9.0M1045.05 1215.89h9.0M1879.5 1215.89h-9.0M1045.05 1314.16h9.0M1879.5 1314.16h-9.0M1045.05 1412.42h9.0M1879.5 1412.42h-9.0M1045.05 1510.69h9.0M1879.5 1510.69h-9.0" stroke="#434448" stroke-width="1.6" fill="none"/>
<text x="1045.05" y="896.5" text-anchor="middle" font-family="Liberation Serif, serif" font-size="35.8" fill="#47484c" stroke="#47484c" stroke-width="0.3">-1</text>
<text x="1164.26" y="896.5" text-anchor="middle" font-family="Liberation Serif, serif" font-size="35.8" fill="#47484c" stroke="#47484c" stroke-width="0.3">0</text>
<text x="1283.46" y="896.5" text-anchor="middle" font-family="Liberation Serif, serif" font-size="35.8" fill="#47484c" stroke="#47484c" stroke-width="0.3">1</text>
<text x="1402.67" y="896.5" text-anchor="middle" font-family="Liberation Serif, serif" font-size="35.8" fill="#47484c" stroke="#47484c" stroke-width="0.3">2</text>
<text x="1521.88" y="896.5" text-anchor="middle" font-family="Liberation Serif, serif" font-size="35.8" fill="#47484c" stroke="#47484c" stroke-width="0.3">3</text>
<text x="1641.09" y="896.5" text-anchor="middle" font-family="Liberation Serif, serif" font-size="35.8" fill="#47484c" stroke="#47484c" stroke-width="0.3">4</text>
<text x="1760.29" y="896.5" text-anchor="middle" font-family="Liberation Serif, serif" font-size="35.8" fill="#47484c" stroke="#47484c" stroke-width="0.3">5</text>
<text x="1879.5" y="896.5" text-anchor="middle" font-family="Liberation Serif, serif" font-size="35.8" fill="#47484c" stroke="#47484c" stroke-width="0.3">6</text>
<text x="1032.05" y="930.4" text-anchor="end" font-family="Liberation Serif, serif" font-size="35.8" fill="#47484c" stroke="#47484c" stroke-width="0.3">0</text>
<text x="1032.05" y="1028.66" text-anchor="end" font-family="Liberation Serif, serif" font-size="35.8" fill="#47484c" stroke="#47484c" stroke-width="0.3">1</text>
<text x="1032.05" y="1126.93" text-anchor="end" font-family="Liberation Serif, serif" font-size="35.8" fill="#47484c" stroke="#47484c" stroke-width="0.3">2</text>
<text x="1032.05" y="1225.19" text-anchor="end" font-family="Liberation Serif, serif" font-size="35.8" fill="#47484c" stroke="#47484c" stroke-width="0.3">3</text>
<text x="1032.05" y="1323.46" text-anchor="end" font-family="Liberation Serif, serif" font-size="35.8" fill="#47484c" stroke="#47484c" stroke-width="0.3">4</text>
<text x="1032.05" y="1421.72" text-anchor="end" font-family="Liberation Serif, serif" font-size="35.8" fill="#47484c" stroke="#47484c" stroke-width="0.3">5</text>
<text x="1032.05" y="1519.99" text-anchor="end" font-family="Liberation Serif, serif" font-size="35.8" fill="#47484c" stroke="#47484c" stroke-width="0.3">6</text>
<text x="1032.05" y="1618.25" text-anchor="end" font-family="Liberation Serif, serif" font-size="35.8" fill="#47484c" stroke="#47484c" stroke-width="0.3">7</text>
<text transform="translate(992.05 1265.03) rotate(-90)" text-anchor="middle" font-family="Liberation Serif, serif" font-size="35.5" fill="#47484c" stroke="#47484c" stroke-width="0.3">z</text>
<clipPath id="cpd"><rect x="1045.05" y="921.1" width="834.45" height="687.85"/></clipPath>
<polyline clip-path="url(#cpd)" points="1216,922.08 1225.75,960.41 1218.25,989.88 1213.75,1029.19 1211.25,1068.5 1182.5,1097.98 1117.25,1137.28 1113,1176.59 1103.75,1206.07 1085.75,1245.37 1062.75,1284.68 1061.75,1323.98 1097.75,1353.46 1118.25,1392.77 1124.25,1432.07 1124.75,1461.55 1123.25,1500.86 1121.25,1540.16 1119.25,1569.64 1117.25,1608.95" fill="none" stroke="#231f20" stroke-width="7.0" stroke-linejoin="round" stroke-linecap="round"/>
<g fill="none" stroke="#231f20" stroke-width="6.5">
<circle cx="1216" cy="922.08" r="7.9"/>
<circle cx="1225.75" cy="960.41" r="7.9"/>
<circle cx="1218.25" cy="989.88" r="7.9"/>
<circle cx="1213.75" cy="1029.19" r="7.9"/>
<circle cx="1211.25" cy="1068.5" r="7.9"/>
<circle cx="1182.5" cy="1097.98" r="7.9"/>
<circle cx="1117.25" cy="1137.28" r="7.9"/>
<circle cx="1113" cy="1176.59" r="7.9"/>
<circle cx="1103.75" cy="1206.07" r="7.9"/>
<circle cx="1085.75" cy="1245.37" r="7.9"/>
<circle cx="1062.75" cy="1284.68" r="7.9"/>
<circle cx="1061.75" cy="1323.98" r="7.9"/>
<circle cx="1097.75" cy="1353.46" r="7.9"/>
<circle cx="1118.25" cy="1392.77" r="7.9"/>
<circle cx="1124.25" cy="1432.07" r="7.9"/>
<circle cx="1124.75" cy="1461.55" r="7.9"/>
<circle cx="1123.25" cy="1500.86" r="7.9"/>
<circle cx="1121.25" cy="1540.16" r="7.9"/>
<circle cx="1119.25" cy="1569.64" r="7.9"/>
<circle cx="1117.25" cy="1608.95" r="7.9"/>
</g>
<polyline clip-path="url(#cpd)" points="1153.75,922.08 1155.25,960.41 1136.25,989.88 1119.25,1029.19 1113.5,1068.5 1091,1097.98 1074.25,1137.28 1145,1176.59 1190,1206.07 1240.6,1245.37 1284,1284.68 1335.75,1323.98 1387.75,1353.46 1435,1392.77 1469.5,1432.07 1490.9,1461.55 1517.25,1500.86 1540,1540.16 1555.5,1569.64 1573.5,1608.95" fill="none" stroke="#ed1c24" stroke-width="7.0" stroke-linejoin="round" stroke-linecap="round"/>
<g fill="none" stroke="#ed1c24" stroke-width="6.5">
<circle cx="1153.75" cy="922.08" r="7.9"/>
<circle cx="1155.25" cy="960.41" r="7.9"/>
<circle cx="1136.25" cy="989.88" r="7.9"/>
<circle cx="1119.25" cy="1029.19" r="7.9"/>
<circle cx="1113.5" cy="1068.5" r="7.9"/>
<circle cx="1091" cy="1097.98" r="7.9"/>
<circle cx="1074.25" cy="1137.28" r="7.9"/>
<circle cx="1145" cy="1176.59" r="7.9"/>
<circle cx="1190" cy="1206.07" r="7.9"/>
<circle cx="1240.6" cy="1245.37" r="7.9"/>
<circle cx="1284" cy="1284.68" r="7.9"/>
<circle cx="1335.75" cy="1323.98" r="7.9"/>
<circle cx="1387.75" cy="1353.46" r="7.9"/>
<circle cx="1435" cy="1392.77" r="7.9"/>
<circle cx="1469.5" cy="1432.07" r="7.9"/>
<circle cx="1490.9" cy="1461.55" r="7.9"/>
<circle cx="1517.25" cy="1500.86" r="7.9"/>
<circle cx="1540" cy="1540.16" r="7.9"/>
<circle cx="1555.5" cy="1569.64" r="7.9"/>
<circle cx="1573.5" cy="1608.95" r="7.9"/>
</g>
<polyline clip-path="url(#cpd)" points="1252.5,922.08 1250.5,960.41 1231.25,989.88 1217.75,1029.19 1218.75,1068.5 1204.25,1097.98 1207.5,1137.28 1306.75,1176.59 1372.5,1206.07 1451.9,1245.37 1524.25,1284.68 1601,1323.98 1664,1353.46 1722,1392.77 1765.25,1432.07 1790.75,1461.55 1817.5,1500.86 1835.75,1540.16 1843.75,1569.64 1848.25,1608.95" fill="none" stroke="#116936" stroke-width="7.0" stroke-linejoin="round" stroke-linecap="round"/>
<g fill="none" stroke="#116936" stroke-width="6.5">
<circle cx="1252.5" cy="922.08" r="7.9"/>
<circle cx="1250.5" cy="960.41" r="7.9"/>
<circle cx="1231.25" cy="989.88" r="7.9"/>
<circle cx="1217.75" cy="1029.19" r="7.9"/>
<circle cx="1218.75" cy="1068.5" r="7.9"/>
<circle cx="1204.25" cy="1097.98" r="7.9"/>
<circle cx="1207.5" cy="1137.28" r="7.9"/>
<circle cx="1306.75" cy="1176.59" r="7.9"/>
<circle cx="1372.5" cy="1206.07" r="7.9"/>
<circle cx="1451.9" cy="1245.37" r="7.9"/>
<circle cx="1524.25" cy="1284.68" r="7.9"/>
<circle cx="1601" cy="1323.98" r="7.9"/>
<circle cx="1664" cy="1353.46" r="7.9"/>
<circle cx="1722" cy="1392.77" r="7.9"/>
<circle cx="1765.25" cy="1432.07" r="7.9"/>
<circle cx="1790.75" cy="1461.55" r="7.9"/>
<circle cx="1817.5" cy="1500.86" r="7.9"/>
<circle cx="1835.75" cy="1540.16" r="7.9"/>
<circle cx="1843.75" cy="1569.64" r="7.9"/>
<circle cx="1848.25" cy="1608.95" r="7.9"/>
</g>
<line x1="1045.05" y1="1117.63" x2="1879.5" y2="1117.63" stroke="#55565a" stroke-opacity="0.9" stroke-width="3.6" stroke-dasharray="18.7 11.3"/>
<line x1="1045.05" y1="1314.16" x2="1879.5" y2="1314.16" stroke="#55565a" stroke-opacity="0.9" stroke-width="3.6" stroke-dasharray="18.7 11.3"/>
<text x="1738.4" y="1028.2" font-family="Liberation Serif, serif" font-size="36" fill="#231f20" stroke="#231f20" stroke-width="0.45" textLength="74" lengthAdjust="spacingAndGlyphs">CTO</text>
<text x="1738.4" y="1224.4" font-family="Liberation Serif, serif" font-size="36" fill="#231f20" stroke="#231f20" stroke-width="0.45" textLength="74" lengthAdjust="spacingAndGlyphs">BTO</text>
<text x="1738.4" y="1420.8" font-family="Liberation Serif, serif" font-size="36" fill="#231f20" stroke="#231f20" stroke-width="0.45" textLength="74" lengthAdjust="spacingAndGlyphs">CTO</text>
<text x="1804.5" y="975.5" font-family="Liberation Serif, serif" font-weight="bold" font-size="50" fill="#231f20" stroke="#231f20" stroke-width="0.3" textLength="62.5" lengthAdjust="spacingAndGlyphs">(d)</text>
<line x1="1381.4" y1="974.4" x2="1475.7" y2="974.4" stroke="#231f20" stroke-width="7.2"/>
<circle cx="1428.6" cy="974.4" r="7.6" fill="none" stroke="#231f20" stroke-width="6.2"/>
<line x1="1381.4" y1="1017" x2="1475.7" y2="1017" stroke="#ed1c24" stroke-width="7.2"/>
<circle cx="1428.6" cy="1017" r="7.6" fill="none" stroke="#ed1c24" stroke-width="6.2"/>
<line x1="1381.4" y1="1059.4" x2="1475.7" y2="1059.4" stroke="#116936" stroke-width="7.2"/>
<circle cx="1428.6" cy="1059.4" r="7.6" fill="none" stroke="#116936" stroke-width="6.2"/>
<text x="1483.2" y="983.4" font-family="Liberation Serif, serif" font-size="36.5" fill="#231f20" stroke="#231f20" stroke-width="0.45" textLength="87" lengthAdjust="spacingAndGlyphs">Static</text>
<g font-family="Liberation Serif, serif" font-size="36.5" fill="#231f20" stroke="#231f20" stroke-width="0.45">
<text x="1482.2" y="1025.8" font-style="italic" textLength="23" lengthAdjust="spacingAndGlyphs">ω</text>
<rect x="1483.2" y="1004.6" width="22" height="1.5"/>
<text x="1514.7" y="1025.8" textLength="27" lengthAdjust="spacingAndGlyphs">=</text>
<text x="1552.2" y="1025.8" textLength="43" lengthAdjust="spacingAndGlyphs">9.5</text>
<path d="M1608.5 1009.7L1624.9 1026.1M1608.5 1026.1L1624.9 1009.7" stroke="#231f20" stroke-width="1.7" fill="none"/>
<text x="1638.7" y="1025.8" textLength="33" lengthAdjust="spacingAndGlyphs">10</text>
<text x="1671.2" y="1011.8" font-size="22.5">4</text>
</g>
<g font-family="Liberation Serif, serif" font-size="36.5" fill="#231f20" stroke="#231f20" stroke-width="0.45">
<text x="1482.2" y="1068.2" font-style="italic" textLength="23" lengthAdjust="spacingAndGlyphs">ω</text>
<rect x="1483.2" y="1047" width="22" height="1.5"/>
<text x="1514.7" y="1068.2" textLength="27" lengthAdjust="spacingAndGlyphs">=</text>
<text x="1552.2" y="1068.2" textLength="43" lengthAdjust="spacingAndGlyphs">1.2</text>
<path d="M1608.5 1052.1L1624.9 1068.5M1608.5 1068.5L1624.9 1052.1" stroke="#231f20" stroke-width="1.7" fill="none"/>
<text x="1638.7" y="1068.2" textLength="33" lengthAdjust="spacingAndGlyphs">10</text>
<text x="1671.2" y="1054.2" font-size="22.5">5</text>
</g>
<g font-family="Liberation Serif, serif" font-size="39.5" fill="#47484c" stroke="#47484c" stroke-width="0.3">
<text x="1246.3" y="850.2" textLength="397" lengthAdjust="spacingAndGlyphs">Magnetostatic potential</text>
<text x="1655.3" y="850.2" font-style="italic" textLength="24" lengthAdjust="spacingAndGlyphs">ψ</text>
<rect x="1656.3" y="817.2" width="25" height="1.6"/>
</g>
<path d="M1790.8 834.4L1807.4 851M1790.8 851L1807.4 834.4" stroke="#47484c" stroke-width="1.7" fill="none"/>
<path d="M1848.6 833.1h14.2" stroke="#47484c" stroke-width="1.4" fill="none"/>
<g font-family="Liberation Serif, serif" fill="#47484c" stroke="#47484c" stroke-width="0.3">
<text x="1813.1" y="851.7" font-size="36.5" textLength="34" lengthAdjust="spacingAndGlyphs">10</text>
<text x="1865.5" y="839.8" font-size="25.5">6</text>
</g>
</svg>
</body></html>
